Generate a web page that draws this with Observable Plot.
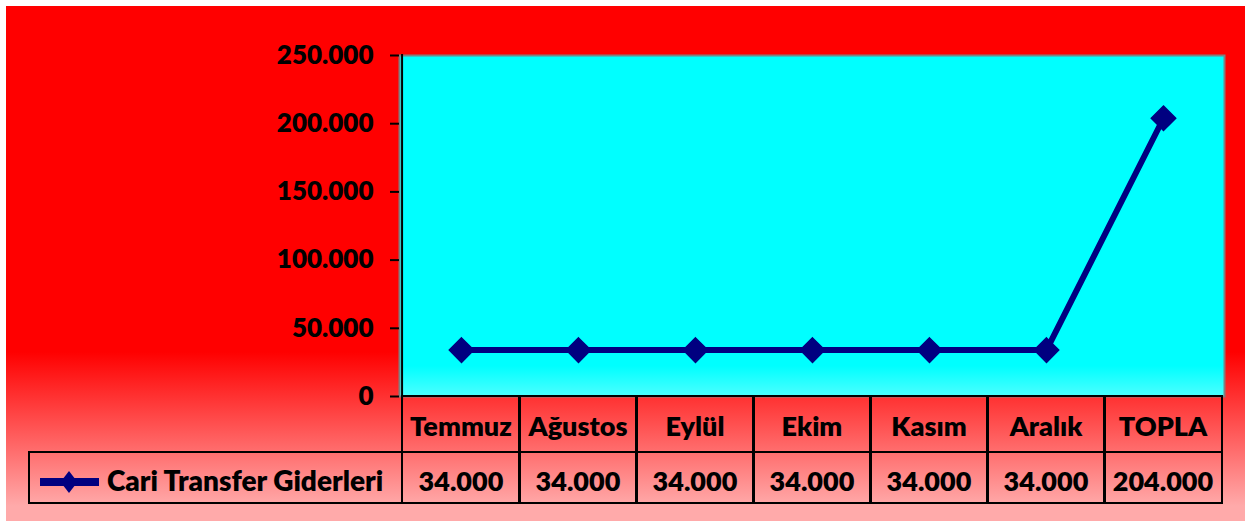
<!DOCTYPE html>
<html><head><meta charset="utf-8">
<script src="https://cdn.jsdelivr.net/npm/d3@7"></script>
<script src="https://cdn.jsdelivr.net/npm/@observablehq/plot@0.6"></script>
<style>
html,body{margin:0;padding:0;background:#fff;}
#wrap{position:relative;width:1245px;height:521px;overflow:hidden;font-family:Lato,sans-serif;font-weight:800;color:#000;}
#bg{position:absolute;left:6px;top:6px;right:0;bottom:0;background:linear-gradient(to bottom,#ff0000 0px,#ff0000 346px,#ffaaaa 500px,#ffaaaa 515px);}
.cell{position:absolute;box-sizing:border-box;border:2px solid #000;display:flex;align-items:center;justify-content:center;font-size:27px;line-height:1;}
</style></head><body>
<div id="wrap"><div id="bg"></div></div>
<script>
const months = ["Temmuz","Ağustos","Eylül","Ekim","Kasım","Aralık","TOPLA"];
const values = [34000,34000,34000,34000,34000,34000,204000];
const seriesName = "Cari Transfer Giderleri";
const yTicks = [0,50000,100000,150000,200000,250000];
const lineColor = "#000080";

const fmt = d3.formatLocale({decimal:",",thousands:".",grouping:[3],currency:["",""]}).format(",d");
const data = months.map((m,i)=>({month:m,value:values[i]}));

const chart = Plot.plot({
  width:1245, height:400,
  marginTop:55, marginBottom:4, marginLeft:399, marginRight:21,
  style:{background:"transparent", fontFamily:"Lato, sans-serif", fontWeight:800, fontSize:"26px", color:"#000", overflow:"visible"},
  x:{type:"point", domain:months, padding:0.5, axis:null},
  y:{domain:[0,250000], ticks:yTicks, label:null},
  marks:[
    Plot.frame({fill:"url(#cyanGrad)", stroke:"#808080", strokeWidth:2}),
    Plot.axisY({ticks:yTicks, tickFormat:fmt, tickSize:9, tickPadding:17, strokeWidth:2, fontSize:26, fontWeight:800, label:null}),
    Plot.line(data,{x:"month",y:"value",stroke:lineColor,strokeWidth:6}),
    Plot.dot(data,{x:"month",y:"value",symbol:"diamond2",r:11,fill:lineColor,stroke:lineColor})
  ]
});

const svgEl = chart.tagName.toLowerCase()==="svg" ? chart : chart.querySelector("svg");
const svg = d3.select(svgEl);
const defs = svg.insert("defs",":first-child");
const g = defs.append("linearGradient").attr("id","cyanGrad").attr("x1",0).attr("y1",0).attr("x2",0).attr("y2",1);
g.append("stop").attr("offset","0.91").attr("stop-color","#00ffff");
g.append("stop").attr("offset","1").attr("stop-color","#4dffff");

const xs = chart.scale("x");
const ys = chart.scale("y");
const n = months.length;
const step = (xs.range[1]-xs.range[0])/(n-1+2*xs.padding);
const left0 = xs.apply(months[0]) - step/2;
const yTop = ys.apply(250000), yBot = ys.apply(0);
svg.append("line").attr("x1",left0).attr("x2",left0).attr("y1",yTop-1).attr("y2",400).attr("stroke","#000").attr("stroke-width",2);

chart.style.position="absolute"; chart.style.left="0px"; chart.style.top="0px";
const wrap = document.getElementById("wrap");
wrap.appendChild(chart);

const headTop = yBot - 1, headBot = 453, valBot = 504;
function cell(left,top,w,h,text,extra){
  const d = document.createElement("div");
  d.className="cell";
  Object.assign(d.style,{left:left+"px",top:top+"px",width:w+"px",height:h+"px"},extra||{});
  if(text!=null) d.textContent=text;
  wrap.appendChild(d);
  return d;
}
months.forEach((m,i)=>{
  const c = xs.apply(m);
  const l = c - step/2 - 1;
  cell(l, headTop, step+2, headBot-headTop, m, {paddingTop:"2px", fontSize:"27px"});
  cell(l, headBot-2, step+2, valBot-headBot+2, fmt(values[i]), {paddingTop:"6px", fontSize:"27px"});
});
const leg = cell(28, headBot-2, left0-28+1, valBot-headBot+2, null, {justifyContent:"flex-start"});
leg.innerHTML = `<svg width="70" height="40" style="position:absolute;left:8px;top:10px">
<line x1="2" x2="61" y1="19" y2="19" stroke="${lineColor}" stroke-width="8"/>
<path d="M31,8 L39.5,19 L31,30 L22.5,19 Z" fill="${lineColor}"/></svg>
<span style="position:absolute;left:77px;top:13px;font-size:28px;white-space:nowrap">${seriesName}</span>`;
</script>
</body></html>
